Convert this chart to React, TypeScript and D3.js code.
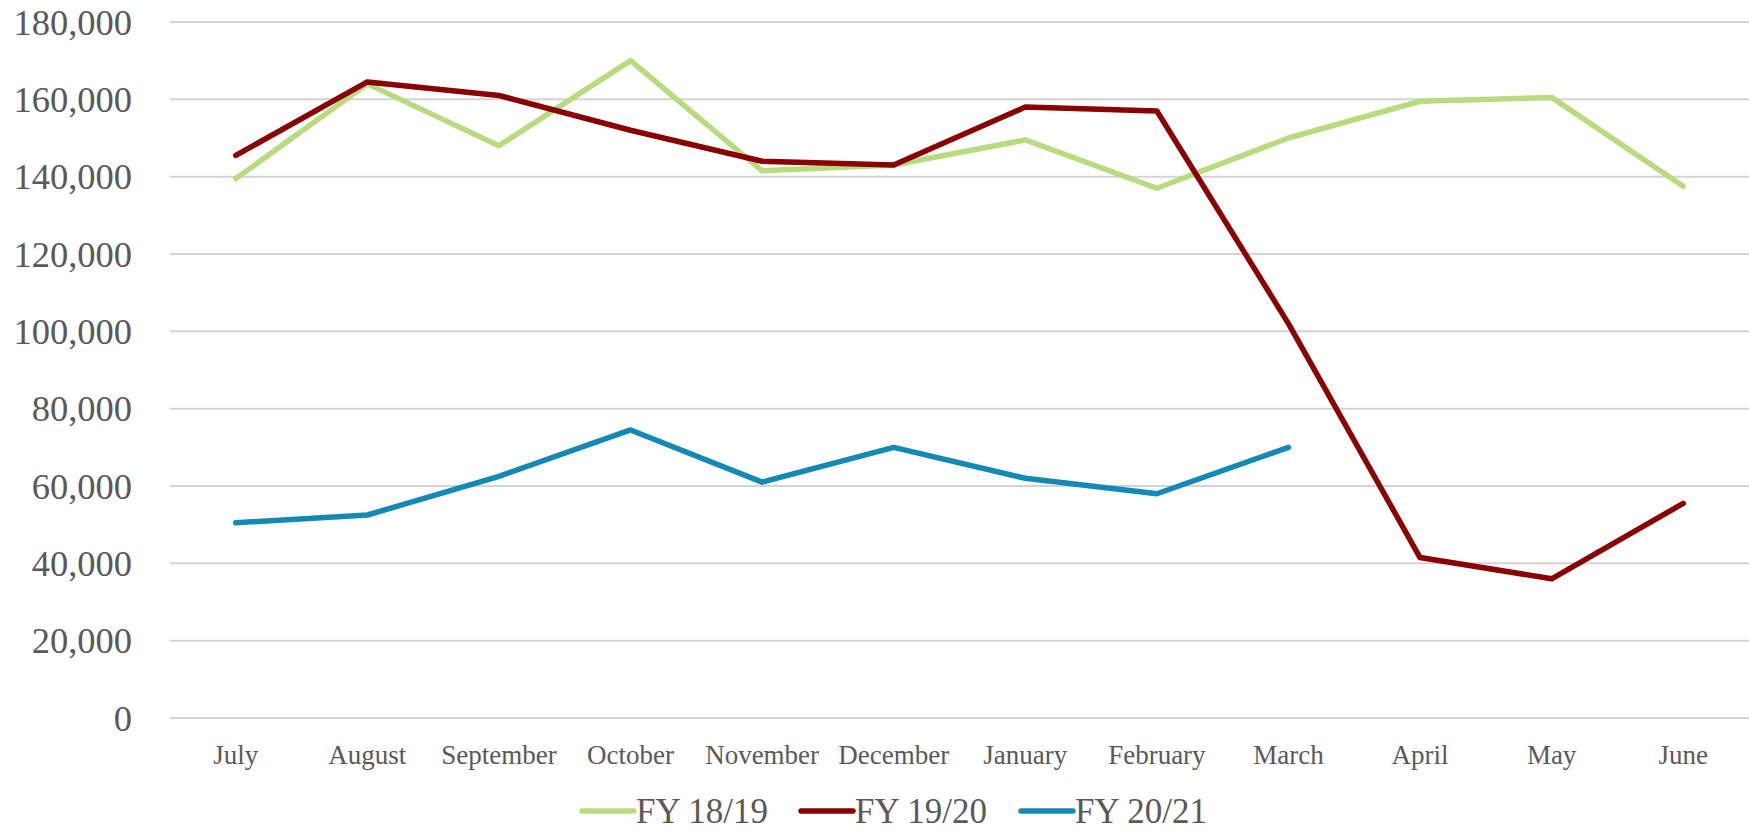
import { useEffect, useRef } from 'react';
import * as d3 from 'd3';

const months = ['July', 'August', 'September', 'October', 'November', 'December',
  'January', 'February', 'March', 'April', 'May', 'June'];

const fy1819 = [139500, 164000, 148000, 170000, 141500, 143000, 149500, 137000, 150000, 159500, 160500, 137500];
const fy1920 = [145500, 164500, 161000, 152000, 144000, 143000, 158000, 157000, 102000, 41500, 36000, 55500];
const fy2021 = [50500, 52500, 62500, 74500, 61000, 70000, 62000, 58000, 70000];

const seriesNames = ['FY 18/19', 'FY 19/20', 'FY 20/21'];
const seriesColors = ['#b8db80', '#880000', '#1389b4'];
const yTicks = [0, 20000, 40000, 60000, 80000, 100000, 120000, 140000, 160000, 180000];

export default function App() {
  const ref = useRef<SVGSVGElement>(null);

  useEffect(() => {
    const width = 1749;
    const height = 834;
    const plot = { left: 170, right: 1749, top: 22, bottom: 718 };
    const font = '"Liberation Serif", "Times New Roman", serif';
    const textColor = '#595959';

    const svg = d3.select(ref.current);
    svg.selectAll('*').remove();
    svg.attr('width', width).attr('height', height);

    const x = d3.scaleBand<string>()
      .domain(months)
      .range([plot.left, plot.right]);

    const y = d3.scaleLinear()
      .domain([0, 180000])
      .range([plot.bottom, plot.top]);

    // gridlines
    svg.append('g')
      .selectAll('line')
      .data(yTicks)
      .enter()
      .append('line')
      .attr('x1', plot.left)
      .attr('x2', plot.right)
      .attr('y1', d => y(d))
      .attr('y2', d => y(d))
      .attr('stroke', '#d4d4d4')
      .attr('stroke-width', 2);

    // y labels
    svg.append('g')
      .selectAll('text')
      .data(yTicks)
      .enter()
      .append('text')
      .attr('x', 132)
      .attr('y', d => y(d))
      .attr('dy', '0.35em')
      .attr('text-anchor', 'end')
      .attr('font-family', font)
      .attr('font-size', 36.5)
      .attr('fill', textColor)
      .text(d => d3.format(',')(d));

    // x labels
    svg.append('g')
      .selectAll('text')
      .data(months)
      .enter()
      .append('text')
      .attr('x', d => (x(d) ?? 0) + x.bandwidth() / 2)
      .attr('y', 755)
      .attr('dy', '0.35em')
      .attr('text-anchor', 'middle')
      .attr('font-family', font)
      .attr('font-size', 27)
      .attr('fill', textColor)
      .text(d => d);

    const line = d3.line<number>()
      .x((_, i) => (x(months[i]) ?? 0) + x.bandwidth() / 2)
      .y(d => y(d));

    [fy1819, fy1920, fy2021].forEach((values, i) => {
      svg.append('path')
        .datum(values)
        .attr('d', line)
        .attr('fill', 'none')
        .attr('stroke', seriesColors[i])
        .attr('stroke-width', 5.5)
        .attr('stroke-linecap', 'round')
        .attr('stroke-linejoin', 'round');
    });

    // legend
    const legendX = [582, 801, 1021];
    const legend = svg.append('g')
      .selectAll('g')
      .data(seriesNames)
      .enter()
      .append('g')
      .attr('transform', (_, i) => `translate(${legendX[i]},811)`);
    legend.append('line')
      .attr('x1', 0)
      .attr('x2', 52)
      .attr('stroke', (_, i) => seriesColors[i])
      .attr('stroke-width', 5.5)
      .attr('stroke-linecap', 'round');
    legend.append('text')
      .attr('x', 54)
      .attr('dy', '0.35em')
      .attr('font-family', font)
      .attr('font-size', 35)
      .attr('fill', textColor)
      .text(d => d);
  }, []);

  return <svg ref={ref} style={{ position: 'absolute', left: 0, top: 0 }} />;
}
